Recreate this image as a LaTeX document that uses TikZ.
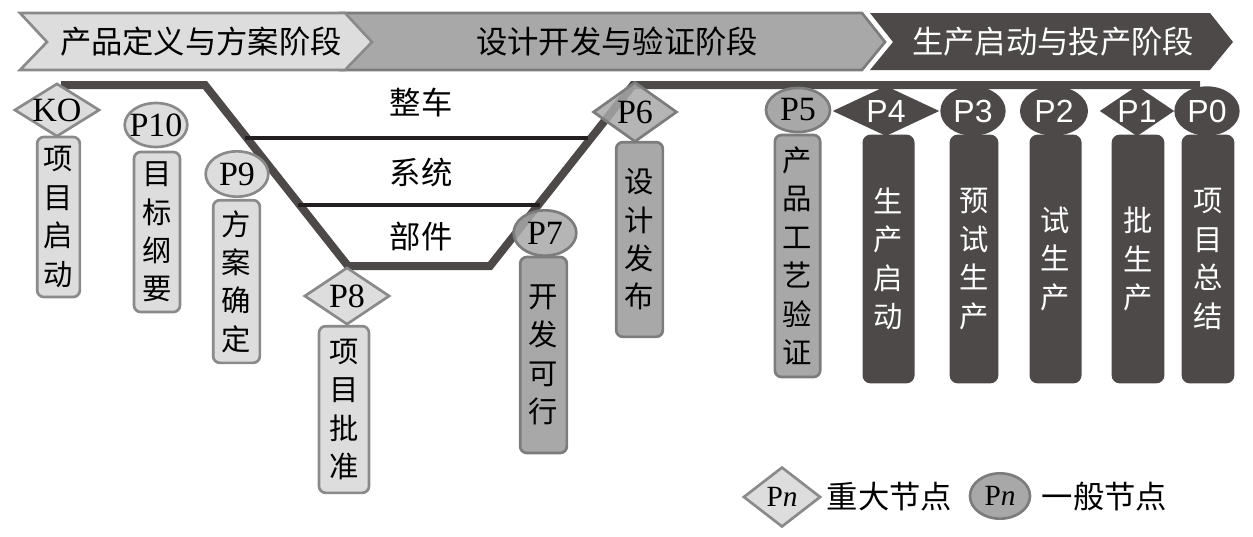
\documentclass[tikz,border=0pt]{standalone}
\usepackage{fontspec}
\setmainfont{Liberation Serif}
\newfontfamily\cjk{Noto Sans CJK SC}
\newfontfamily\sansf{Liberation Sans}
\usetikzlibrary{shapes.geometric}
\definecolor{lightg}{HTML}{DDDDDD}
\definecolor{bordL}{HTML}{8A8A8A}
\definecolor{midg}{HTML}{A8A8A8}
\definecolor{bordM}{HTML}{7C7C7C}
\definecolor{darkg}{HTML}{4D4949}
\definecolor{thin}{HTML}{231F20}
\begin{document}
\begin{tikzpicture}[x=0.75pt,y=-0.75pt,
  cjkbig/.style={font=\cjk\fontsize{23.5}{23.5}\selectfont},
  vtext/.style={align=center,font=\cjk\fontsize{22}{28.8}\selectfont},
  boxbase/.style={line width=2pt, rounded corners=5pt, inner sep=0pt, vtext},
  lbox/.style={boxbase, draw=bordL, fill=lightg},
  mbox/.style={boxbase, draw=bordM, fill=midg},
  dbox/.style={boxbase, draw=darkg, fill=darkg, text=white},
  mkbase/.style={line width=2pt, inner xsep=-8pt, inner ysep=-5pt},
  serifP/.style={font=\fontsize{25.5}{25.5}\selectfont},
  ldia/.style={mkbase, diamond, draw=bordL, fill=lightg, serifP},
  mdia/.style={mkbase, diamond, draw=bordM, fill=midg, serifP},
  lell/.style={mkbase, ellipse, draw=bordL, fill=lightg, serifP},
  mell/.style={mkbase, ellipse, draw=bordM, fill=midg, serifP},
  ddia/.style={mkbase, diamond, draw=darkg, fill=darkg, text=white, font=\sansf\fontsize{24}{24}\selectfont},
  dell/.style={mkbase, ellipse, draw=darkg, fill=darkg, text=white, font=\sansf\fontsize{24}{24}\selectfont},
  seethru/.style={fill opacity=0.85, text opacity=1},
  vline/.style={draw=darkg, line width=6pt},
  sline/.style={draw=thin, line width=2.7pt}
]
\useasboundingbox (0,0) rectangle (1253,536);

% banners
\fill[midg, draw=bordM, line width=2pt] (340,13) -- (862,13) -- (885,42) -- (862,70) -- (340,70) -- cycle;
\fill[lightg, draw=bordL, line width=2pt] (20,13) -- (345,13) -- (372,42) -- (345,70) -- (20,70) -- (47,42) -- cycle;
\fill[darkg] (870,13) -- (1210,13) -- (1233,42) -- (1210,70) -- (870,70) -- (893,42) -- cycle;
\node[cjkbig] (ph1) at (201,42) {产品定义与方案阶段};
\node[cjkbig] (ph2) at (617,42) {设计开发与验证阶段};
\node[cjkbig, text=white] (ph3) at (1053,42) {生产启动与投产阶段};

% V line
\coordinate (v0) at (61,85);
\coordinate (v1) at (205,85);
\coordinate (v2) at (348,266);
\coordinate (v3) at (490,266);
\coordinate (v4) at (633,85);
\coordinate (v5) at (1200,85);
\draw[vline] (v0) -- (v1) -- (v2) -- (v3) -- (v4) -- (v5);

% level separators
\coordinate (s1a) at (245,138);
\coordinate (s1b) at (588,138);
\coordinate (s2a) at (298,205);
\coordinate (s2b) at (540,205);
\draw[sline] (s1a) -- (s1b);
\draw[sline] (s2a) -- (s2b);
\node[cjkbig] (lv1) at (421,103) {整车};
\node[cjkbig] (lv2) at (421,172) {系统};
\node[cjkbig] (lv3) at (421,237) {部件};

% milestone boxes
\node[lbox, minimum width=32pt, minimum height=120pt] (bKO) at (58.5,217) {项\\目\\启\\动};
\node[lbox, minimum width=34.5pt, minimum height=120pt] (b10) at (157,232) {目\\标\\纲\\要};
\node[lbox, minimum width=35pt, minimum height=122pt] (b9) at (236.5,281.5) {方\\案\\确\\定};
\node[lbox, minimum width=37.5pt, minimum height=125pt] (b8) at (344,409.5) {项\\目\\批\\准};
\node[mbox, minimum width=35pt, minimum height=147pt] (b7) at (543.5,355) {开\\发\\可\\行};
\node[mbox, minimum width=35pt, minimum height=146pt] (b6) at (639.5,239.5) {设\\计\\发\\布};
\node[mbox, minimum width=34pt, minimum height=181.5pt] (b5) at (797.5,256) {产\\品\\工\\艺\\验\\证};
\node[dbox, minimum width=37pt, minimum height=184.5pt] (b4) at (888.5,259) {生\\产\\启\\动};
\node[dbox, minimum width=34.5pt, minimum height=184.5pt] (b3) at (974,259) {预\\试\\生\\产};
\node[dbox, minimum width=37pt, minimum height=184.5pt] (b2) at (1055.5,259) {试\\生\\产};
\node[dbox, minimum width=37.5pt, minimum height=184.5pt] (b1) at (1138,259) {批\\生\\产};
\node[dbox, minimum width=37.5pt, minimum height=184.5pt] (b0) at (1208,259) {项\\目\\总\\结};

% milestone markers
\node[ldia, minimum width=64pt, minimum height=40pt] (mKO) at (57,110) {KO};
\node[lell, minimum width=47pt, minimum height=33pt] (m10) at (156,125) {P10};
\node[lell, minimum width=47pt, minimum height=34pt] (m9) at (237,174) {P9};
\node[ldia, minimum width=64pt, minimum height=43pt] (m8) at (347,296) {P8};
\node[mell, seethru, minimum width=47pt, minimum height=34pt] (m7) at (545,233) {P7};
\node[mdia, seethru, minimum width=63pt, minimum height=45pt] (m6) at (635,112) {P6};
\node[mell, minimum width=48pt, minimum height=33pt] (m5) at (798,110) {P5};
\node[ddia, minimum width=76pt, minimum height=36pt] (m4) at (886,111) {P4};
\node[dell, minimum width=47pt, minimum height=35pt] (m3) at (973,111) {P3};
\node[dell, minimum width=49pt, minimum height=35pt] (m2) at (1054,111) {P2};
\node[ddia, minimum width=53pt, minimum height=36pt] (m1) at (1137,111) {P1};
\node[dell, minimum width=47pt, minimum height=35pt] (m0) at (1207,111) {P0};

% legend
\node[ldia, minimum width=58pt, minimum height=45pt, font=\fontsize{22}{22}\selectfont] (lgA) at (782,497) {P\textit{n}};
\node[cjkbig, anchor=west] (lgAt) at (822,497) {重大节点};
\node[mell, minimum width=45pt, minimum height=34pt, font=\fontsize{22}{22}\selectfont] (lgB) at (1000,496) {P\textit{n}};
\node[cjkbig, anchor=west] (lgBt) at (1037,497) {一般节点};
\end{tikzpicture}
\end{document}
